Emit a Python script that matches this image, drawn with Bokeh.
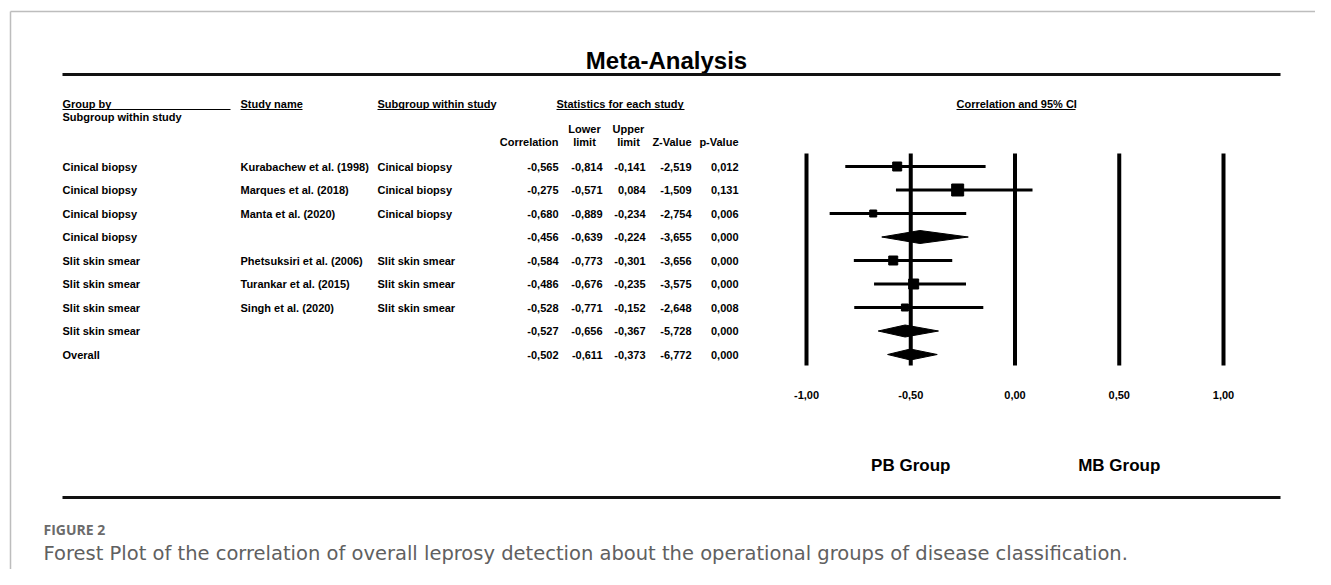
from bokeh.plotting import figure
from bokeh.models import Range1d
from bokeh.core.properties import value
from bokeh.embed import file_html
from bokeh.resources import INLINE

# ---------------- data ----------------
group_by = ["Cinical biopsy", "Cinical biopsy", "Cinical biopsy", "Cinical biopsy",
            "Slit skin smear", "Slit skin smear", "Slit skin smear", "Slit skin smear",
            "Overall"]
study_name = ["Kurabachew et al. (1998)", "Marques et al. (2018)", "Manta et al. (2020)", "",
              "Phetsuksiri et al. (2006)", "Turankar et al. (2015)", "Singh et al. (2020)", "",
              ""]
subgroup = ["Cinical biopsy", "Cinical biopsy", "Cinical biopsy", "",
            "Slit skin smear", "Slit skin smear", "Slit skin smear", "", ""]
correlation = [-0.565, -0.275, -0.680, -0.456, -0.584, -0.486, -0.528, -0.527, -0.502]
lower_limit = [-0.814, -0.571, -0.889, -0.639, -0.773, -0.676, -0.771, -0.656, -0.611]
upper_limit = [-0.141, 0.084, -0.234, -0.224, -0.301, -0.235, -0.152, -0.367, -0.373]
z_value = [-2.519, -1.509, -2.754, -3.655, -3.656, -3.575, -2.648, -5.728, -6.772]
p_value = [0.012, 0.131, 0.006, 0.000, 0.000, 0.000, 0.008, 0.000, 0.000]
is_summary = [False, False, False, True, False, False, False, True, True]
x_ticks = [-1.0, -0.5, 0.0, 0.5, 1.0]

# ---------------- layout / style ----------------
W, H = 1315, 569
ORIGIN = 0                   # screenshot position of the figure's top-left corner
CORR_ZERO_PX = 1014.5        # screen x of correlation 0
CORR_UNIT_PX = 208.5         # screen px per correlation unit
ROW_Y0, ROW_DY = 166, 23.5
marker_px = [9, 12, 7, 0, 9, 10, 7, 0, 0]
diamond_h = [0, 0, 0, 13, 0, 0, 0, 12, 11]
TBL_FONT = value("Liberation Sans")
TBL_SIZE = "11px"


def fmt(v, d=3):
    return f"{v:.{d}f}".replace(".", ",")


def tbl_text(**kw):
    base = dict(text_font=TBL_FONT, text_font_style="bold", text_font_size=TBL_SIZE,
                text_baseline="middle", text_color="black")
    base.update(kw)
    return p.text(**base)


p = figure(width=W, height=H, x_range=Range1d(ORIGIN, ORIGIN + W),
           y_range=Range1d(ORIGIN + H, ORIGIN),
           x_axis_type=None, y_axis_type=None, output_backend="svg", toolbar_location=None,
           min_border=0, outline_line_color=None, background_fill_color="white",
           border_fill_color="white")
p.grid.visible = False
p.extra_x_ranges = {"corr": Range1d((ORIGIN - CORR_ZERO_PX) / CORR_UNIT_PX,
                                    (ORIGIN + W - CORR_ZERO_PX) / CORR_UNIT_PX)}

# frame border
p.segment(x0=[10, 10], y0=[11, 11], x1=[ORIGIN + W, 10], y1=[11, ORIGIN + H],
          line_color="#bdbdbd", line_width=1.5)

# title and rules
p.text(x=[666], y=[60], text=["Meta-Analysis"], text_font=value("Liberation Sans"),
       text_font_style="bold", text_font_size="24px", text_align="center",
       text_baseline="middle", text_color="black")
p.segment(x0=[62, 62], y0=[74, 497], x1=[1280, 1280], y1=[74, 497],
          line_color="#111111", line_width=3)

# headers
hdr_x = [62, 240, 377, 556, 956]
hdr_t = ["Group by", "Study name", "Subgroup within study", "Statistics for each study",
         "Correlation and 95% CI"]
tbl_text(x=hdr_x, y=[103] * 5, text=hdr_t)
ul_x0 = [62, 240, 377, 556, 956]
ul_x1 = [230, 302, 493, 684, 1075]
p.segment(x0=ul_x0, y0=[109] * 5, x1=ul_x1, y1=[109] * 5, line_color="black", line_width=1)
tbl_text(x=[62], y=[116], text=["Subgroup within study"])

col_right = [558, 602, 645, 691, 738]
tbl_text(x=[584, 628], y=[128, 128], text=["Lower", "Upper"], text_align="center")
tbl_text(x=[558, 584, 628, 691, 738], y=[141] * 5,
         text=["Correlation", "limit", "limit", "Z-Value", "p-Value"],
         text_align=["right", "center", "center", "right", "right"])

# table rows
ys = [ROW_Y0 + i * ROW_DY for i in range(len(correlation))]
tbl_text(x=[62] * len(ys), y=ys, text=group_by)
tbl_text(x=[240] * len(ys), y=ys, text=study_name)
tbl_text(x=[377] * len(ys), y=ys, text=subgroup)
for cx, vals in zip(col_right, [correlation, lower_limit, upper_limit, z_value, p_value]):
    tbl_text(x=[cx] * len(ys), y=ys, text=[fmt(v) for v in vals], text_align="right")

# forest plot: reference lines and tick labels
p.segment(x0=x_ticks, y0=[153] * 5, x1=x_ticks, y1=[365] * 5, x_range_name="corr",
          line_color="black", line_width=4)
tbl_text(x=x_ticks, y=[394] * 5, text=[fmt(v, 2) for v in x_ticks], x_range_name="corr",
         text_align="center")

# studies
st = [i for i in range(len(ys)) if not is_summary[i]]
p.segment(x0=[lower_limit[i] for i in st], y0=[ys[i] for i in st],
          x1=[upper_limit[i] for i in st], y1=[ys[i] for i in st],
          x_range_name="corr", line_color="black", line_width=3)
p.scatter(x=[correlation[i] for i in st], y=[ys[i] for i in st],
          size=[marker_px[i] for i in st], marker="square", x_range_name="corr",
          fill_color="black", line_color="black")

# summary diamonds
sm = [i for i in range(len(ys)) if is_summary[i]]
p.patches(xs=[[lower_limit[i], correlation[i], upper_limit[i], correlation[i]] for i in sm],
          ys=[[ys[i], ys[i] - diamond_h[i] / 2, ys[i], ys[i] + diamond_h[i] / 2] for i in sm],
          x_range_name="corr", fill_color="black", line_color="black", line_width=1)

# group labels
p.text(x=[-0.5, 0.5], y=[465, 465], text=["PB Group", "MB Group"], x_range_name="corr",
       text_font=value("Liberation Sans"), text_font_style="bold", text_font_size="17px",
       text_align="center", text_baseline="middle")

# caption
p.text(x=[43], y=[529], text=["FIGURE 2"], text_font=value("Open Sans"),
       text_font_style="bold", text_font_size="14px", text_baseline="middle",
       text_color="#6b6b6b")
p.text(x=[43], y=[553],
       text=["Forest Plot of the correlation of overall leprosy detection about the operational groups of disease classification."],
       text_font=value("DejaVu Sans"), text_font_size="19.5px", text_baseline="middle",
       text_color="#606060")

open("out.html", "w").write(file_html(p, INLINE))
